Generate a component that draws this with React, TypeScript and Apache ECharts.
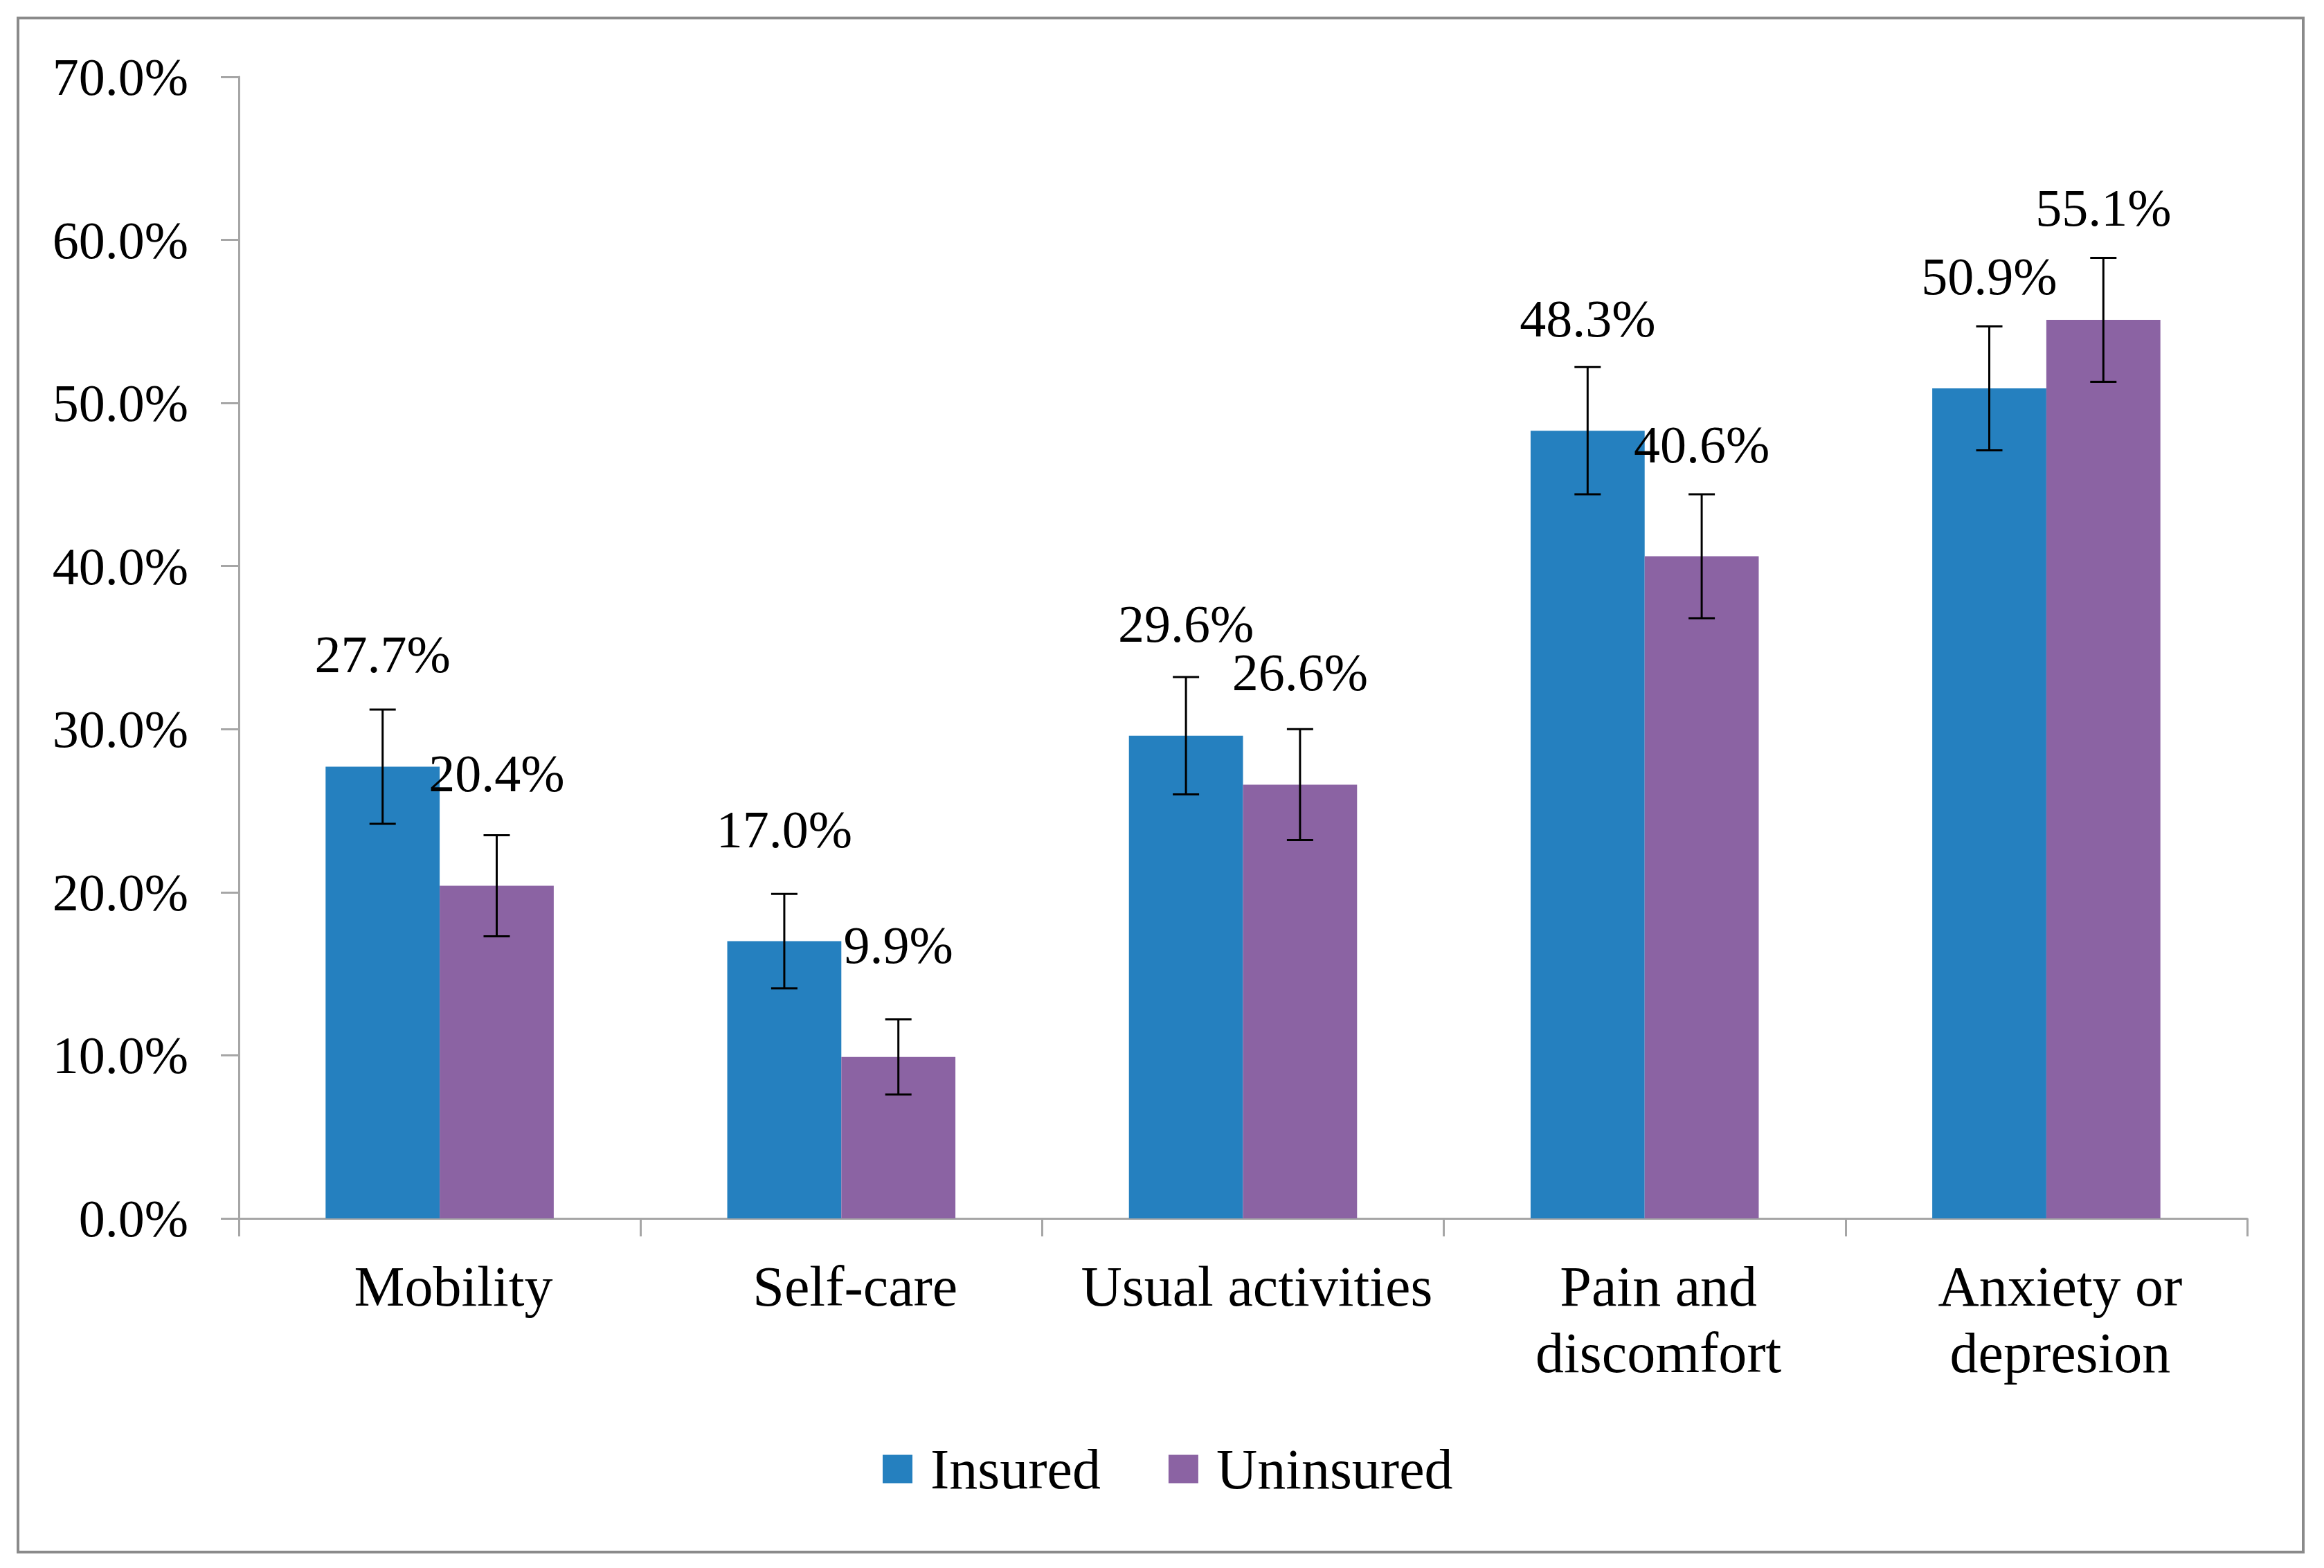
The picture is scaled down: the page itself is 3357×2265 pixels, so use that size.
import React, { useEffect, useRef } from "react";
import * as echarts from "echarts";

const categories = ["Mobility", "Self-care", "Usual activities", "Pain and\ndiscomfort", "Anxiety or\ndepresion"];
const seriesNames = ["Insured", "Uninsured"];
const insured = [27.7, 17.0, 29.6, 48.3, 50.9];
const uninsured = [20.4, 9.9, 26.6, 40.6, 55.1];
const insuredErr = [3.5, 2.9, 3.6, 3.9, 3.8];
const uninsuredErr = [3.1, 2.3, 3.4, 3.8, 3.8];
const yTicks = { min: 0, max: 70, interval: 10 };

const FONT = "'Liberation Serif', 'Times New Roman', serif";
const BLUE = "#2580BF";
const PURPLE = "#8B63A3";
const CAT_GAP = 0.432;

function errData(vals: number[], errs: number[]) {
  return vals.map((v, i) => [i, v - errs[i], v + errs[i]]);
}

function makeErrSeries(vals: number[], errs: number[], side: number) {
  return {
    type: "custom",
    name: side < 0 ? "errInsured" : "errUninsured",
    silent: true,
    z: 5,
    encode: { x: 0, y: [1, 2] },
    data: errData(vals, errs),
    renderItem: (params: any, api: any) => {
      const ci = api.value(0);
      const lo = api.value(1);
      const hi = api.value(2);
      const band = api.size([1, 0])[0];
      const barW = (band * (1 - CAT_GAP)) / 2;
      const top = api.coord([ci, hi]);
      const bot = api.coord([ci, lo]);
      const x = top[0] + (side * barW) / 2;
      const cap = 19;
      const style = { stroke: "#000", lineWidth: 3 };
      return {
        type: "group",
        children: [
          { type: "line", shape: { x1: x, y1: top[1], x2: x, y2: bot[1] }, style },
          { type: "line", shape: { x1: x - cap, y1: top[1], x2: x + cap, y2: top[1] }, style },
          { type: "line", shape: { x1: x - cap, y1: bot[1], x2: x + cap, y2: bot[1] }, style },
        ],
      };
    },
  };
}

export default function App() {
  const ref = useRef<HTMLDivElement>(null);
  useEffect(() => {
    if (!ref.current) return;
    const chart = echarts.init(ref.current, undefined, { renderer: "svg" });
    const labelCfg = {
      show: true,
      position: "top",
      distance: 124,
      fontFamily: FONT,
      fontSize: 76,
      color: "#000",
      formatter: (p: any) => Number(p.value).toFixed(1) + "%",
    };
    chart.setOption({
      animation: false,
      backgroundColor: "#fff",
      graphic: [
        {
          type: "rect",
          shape: { x: 26, y: 26, width: 3301, height: 2216 },
          style: { fill: "none", stroke: "#8a8a8a", lineWidth: 4 },
          z: 0,
        },
      ],
      grid: { left: 345, right: 111, top: 111, bottom: 505, containLabel: false },
      legend: {
        data: seriesNames,
        left: 1270,
        top: 2076,
        icon: "rect",
        itemWidth: 43,
        itemHeight: 41,
        itemGap: 98,
        textStyle: { fontFamily: FONT, fontSize: 82, color: "#000", padding: [0, 0, 0, 21] },
      },
      xAxis: {
        type: "category",
        data: categories,
        boundaryGap: true,
        axisLine: { show: true, lineStyle: { color: "#a6a6a6", width: 3 } },
        axisTick: { show: true, alignWithLabel: false, length: 26, lineStyle: { color: "#a6a6a6", width: 3 } },
        axisLabel: {
          fontFamily: FONT,
          fontSize: 82,
          color: "#000",
          margin: 50,
          lineHeight: 96,
          interval: 0,
          padding: [0, 0, 0, 40],
        },
        splitLine: { show: false },
      },
      yAxis: {
        type: "value",
        min: yTicks.min,
        max: yTicks.max,
        interval: yTicks.interval,
        axisLine: { show: true, lineStyle: { color: "#a6a6a6", width: 3 } },
        axisTick: { show: true, length: 26, lineStyle: { color: "#a6a6a6", width: 3 } },
        axisLabel: {
          fontFamily: FONT,
          fontSize: 76,
          color: "#000",
          margin: 73,
          formatter: (v: number) => v.toFixed(1) + "%",
        },
        splitLine: { show: false },
      },
      series: [
        {
          name: seriesNames[0],
          type: "bar",
          data: insured,
          barGap: "0%",
          barCategoryGap: CAT_GAP * 100 + "%",
          itemStyle: { color: BLUE },
          label: labelCfg,
        },
        {
          name: seriesNames[1],
          type: "bar",
          data: uninsured,
          barGap: "0%",
          barCategoryGap: CAT_GAP * 100 + "%",
          itemStyle: { color: PURPLE },
          label: labelCfg,
        },
        makeErrSeries(insured, insuredErr, -1),
        makeErrSeries(uninsured, uninsuredErr, 1),
      ],
    });
    return () => chart.dispose();
  }, []);
  return (
    <div
      ref={ref}
      style={{ position: "fixed", left: 0, top: 0, width: 3357, height: 2265, background: "#fff" }}
    />
  );
}
